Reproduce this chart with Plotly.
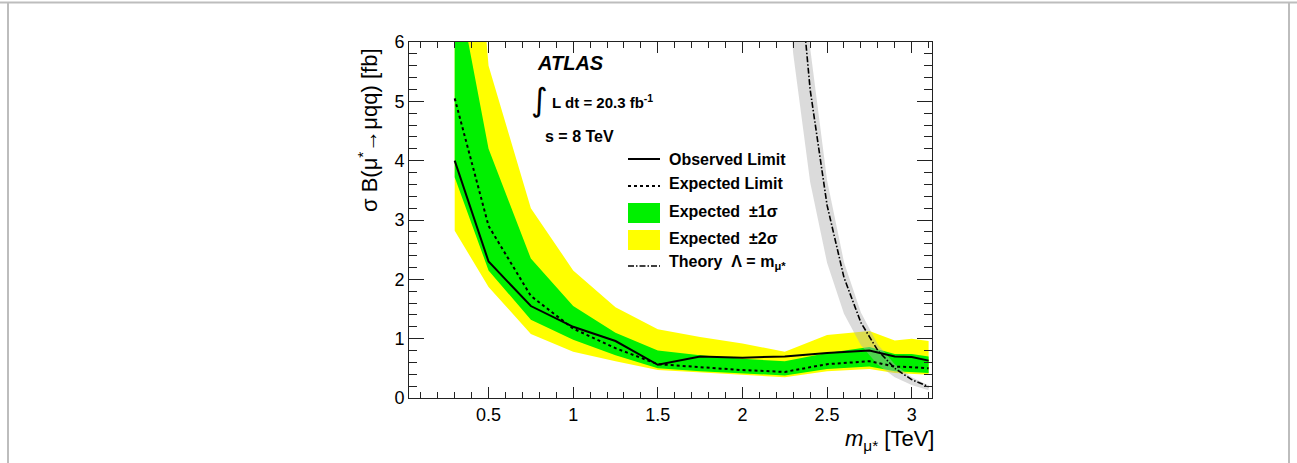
import plotly.graph_objects as go

# ---------------- data ----------------
mass = [0.3, 0.5, 0.75, 1.0, 1.25, 1.5, 1.75, 2.0, 2.25, 2.5, 2.75, 2.9, 3.0, 3.1]
observed = [4.0, 2.3, 1.55, 1.2, 0.96, 0.56, 0.70, 0.68, 0.70, 0.76, 0.80, 0.70, 0.69, 0.63]
expected = [5.05, 2.9, 1.72, 1.17, 0.84, 0.57, 0.52, 0.47, 0.44, 0.57, 0.62, 0.53, 0.52, 0.50]
sig1_up = [7.2, 4.2, 2.35, 1.55, 1.1, 0.80, 0.72, 0.66, 0.62, 0.76, 0.86, 0.74, 0.74, 0.70]
sig1_lo = [3.72, 2.15, 1.32, 0.98, 0.72, 0.50, 0.45, 0.41, 0.38, 0.49, 0.53, 0.45, 0.44, 0.42]
sig2_up = [12.5, 5.6, 3.2, 2.15, 1.53, 1.16, 1.03, 0.92, 0.78, 1.06, 1.13, 0.97, 1.0, 0.96]
sig2_lo = [2.82, 1.87, 1.08, 0.78, 0.62, 0.47, 0.42, 0.39, 0.35, 0.45, 0.49, 0.42, 0.41, 0.39]

theory_mass = [2.2, 2.3, 2.4, 2.5, 2.6, 2.7, 2.8, 2.9, 3.0, 3.1]
theory = [13.3, 8.3, 5.2, 3.25, 2.03, 1.27, 0.80, 0.50, 0.31, 0.19]
theory_up = [15.0, 9.4, 5.9, 3.67, 2.29, 1.44, 0.90, 0.57, 0.35, 0.21]
theory_lo = [9.3, 5.8, 3.64, 2.28, 1.42, 0.89, 0.56, 0.35, 0.22, 0.13]

x_ticks = [0.5, 1, 1.5, 2, 2.5, 3]
y_ticks = [0, 1, 2, 3, 4, 5, 6]

legend_labels = ["Observed Limit", "Expected Limit", "Expected  \u00b11\u03c3",
                 "Expected  \u00b12\u03c3", "Theory  \u039b = m<sub>\u03bc*</sub>"]

# ---------------- layout geometry ----------------
W, H = 1297, 463
L, R, T, B = 409, 365, 42, 65
PW = W - L - R
PH = H - T - B
FONT = "Liberation Sans, Arial, Helvetica, sans-serif"
GREEN = "#00f000"
YELLOW = "#ffff00"


def px(x):
    return (x - L) / PW


def py(y):
    return (H - B - y) / PH


fig = go.Figure()


def band(xs, lo, hi, color):
    fig.add_trace(go.Scatter(x=xs + xs[::-1], y=hi + lo[::-1], fill="toself",
                             fillcolor=color, mode="lines", line=dict(width=0),
                             hoverinfo="skip", showlegend=False))


band(mass, sig2_lo, sig2_up, YELLOW)
band(mass, sig1_lo, sig1_up, GREEN)
band(theory_mass, theory_lo, theory_up, "rgba(175,175,175,0.45)")

fig.add_trace(go.Scatter(x=mass, y=expected, mode="lines",
                         line=dict(color="black", width=2, dash="3px,3px"), showlegend=False))
fig.add_trace(go.Scatter(x=mass, y=observed, mode="lines",
                         line=dict(color="black", width=2), showlegend=False))
fig.add_trace(go.Scatter(x=theory_mass, y=theory, mode="lines",
                         line=dict(color="black", width=1.6, dash="6px,2px,1.5px,2px"),
                         showlegend=False))

shapes = []
annotations = []

# legend (manual)
lx0, lx1, ltext = 628, 660, 667
rows = [159, 183, 211, 238, 262]
shapes.append(dict(type="line", xref="paper", yref="paper", x0=px(lx0), x1=px(lx1),
                   y0=py(159), y1=py(159), line=dict(color="black", width=2)))
shapes.append(dict(type="line", xref="paper", yref="paper", x0=px(lx0), x1=px(lx1),
                   y0=py(186), y1=py(186), line=dict(color="black", width=2, dash="3px,3px")))
shapes.append(dict(type="rect", xref="paper", yref="paper", x0=px(lx0), x1=px(lx1),
                   y0=py(223), y1=py(203), fillcolor=GREEN, line=dict(width=0)))
shapes.append(dict(type="rect", xref="paper", yref="paper", x0=px(lx0), x1=px(lx1),
                   y0=py(250), y1=py(230), fillcolor=YELLOW, line=dict(width=0)))
shapes.append(dict(type="line", xref="paper", yref="paper", x0=px(lx0), x1=px(lx1),
                   y0=py(266), y1=py(266),
                   line=dict(color="black", width=1.6, dash="6px,2px,1.5px,2px")))
for lab, yy in zip(legend_labels, rows):
    annotations.append(dict(xref="paper", yref="paper", x=px(ltext), y=py(yy),
                            xanchor="left", yanchor="middle", showarrow=False,
                            text="<b>" + lab + "</b>",
                            font=dict(family=FONT, size=16, color="black")))

# ATLAS label
annotations.append(dict(xref="paper", yref="paper", x=px(535), y=py(63), xanchor="left",
                        yanchor="middle", showarrow=False, text="<b><i>ATLAS</i></b>",
                        font=dict(family=FONT, size=20, color="black")))
annotations.append(dict(xref="paper", yref="paper", x=px(539), y=py(100), xanchor="center",
                        yanchor="middle", showarrow=False, text="\u222b",
                        font=dict(family="DejaVu Sans", size=32, color="black")))
annotations.append(dict(xref="paper", yref="paper", x=px(550), y=py(102), xanchor="left",
                        yanchor="middle", showarrow=False,
                        text="<b>L dt = 20.3 fb<sup>-1</sup></b>",
                        font=dict(family=FONT, size=15, color="black")))
annotations.append(dict(xref="paper", yref="paper", x=px(543), y=py(136), xanchor="left",
                        yanchor="middle", showarrow=False, text="<b>s = 8 TeV</b>",
                        font=dict(family=FONT, size=16, color="black")))

# axis titles
annotations.append(dict(xref="paper", yref="paper", x=px(368), y=py(130), xanchor="center",
                        yanchor="middle", showarrow=False, textangle=-90,
                        text="\u03c3 B(\u03bc<sup>*</sup>\u2192\u03bcqq) [fb]",
                        font=dict(family=FONT, size=22, color="black")))
annotations.append(dict(xref="paper", yref="paper", x=px(936), y=py(440), xanchor="right",
                        yanchor="middle", showarrow=False,
                        text="<i>m</i><sub>\u03bc*</sub> [TeV]",
                        font=dict(family=FONT, size=22, color="black")))

# outer frame of the picture
for x0, y0, x1, y1 in [(0, 2.5, W, 2.5), (8, 2.5, 8, H), (1289, 2.5, 1289, H)]:
    shapes.append(dict(type="line", xref="paper", yref="paper", x0=px(x0), x1=px(x1),
                       y0=py(y0), y1=py(y1), line=dict(color="#bdbdbd", width=2)))

axis_common = dict(showline=True, linecolor="#222", linewidth=1, showgrid=False,
                   zeroline=False, ticks="inside", mirror="allticks", tickcolor="#222",
                   tickwidth=1, tickfont=dict(family=FONT, size=18, color="black"))

fig.update_layout(
    width=W, height=H,
    margin=dict(l=L, r=R, t=T, b=B),
    paper_bgcolor="white", plot_bgcolor="white",
    showlegend=False,
    xaxis=dict(range=[0.03, 3.12], tickmode="array", tickvals=x_ticks,
               ticktext=[str(v) for v in x_ticks], ticklen=11,
               minor=dict(dtick=0.1, tick0=0, ticklen=6, ticks="inside", tickcolor="#222"),
               **axis_common),
    yaxis=dict(range=[0, 6], tickmode="array", tickvals=y_ticks,
               ticktext=[str(v) for v in y_ticks], ticklen=15,
               minor=dict(dtick=0.2, tick0=0, ticklen=8, ticks="inside", tickcolor="#222"),
               **axis_common),
    shapes=shapes,
    annotations=annotations,
)

fig.write_html("out.html")
